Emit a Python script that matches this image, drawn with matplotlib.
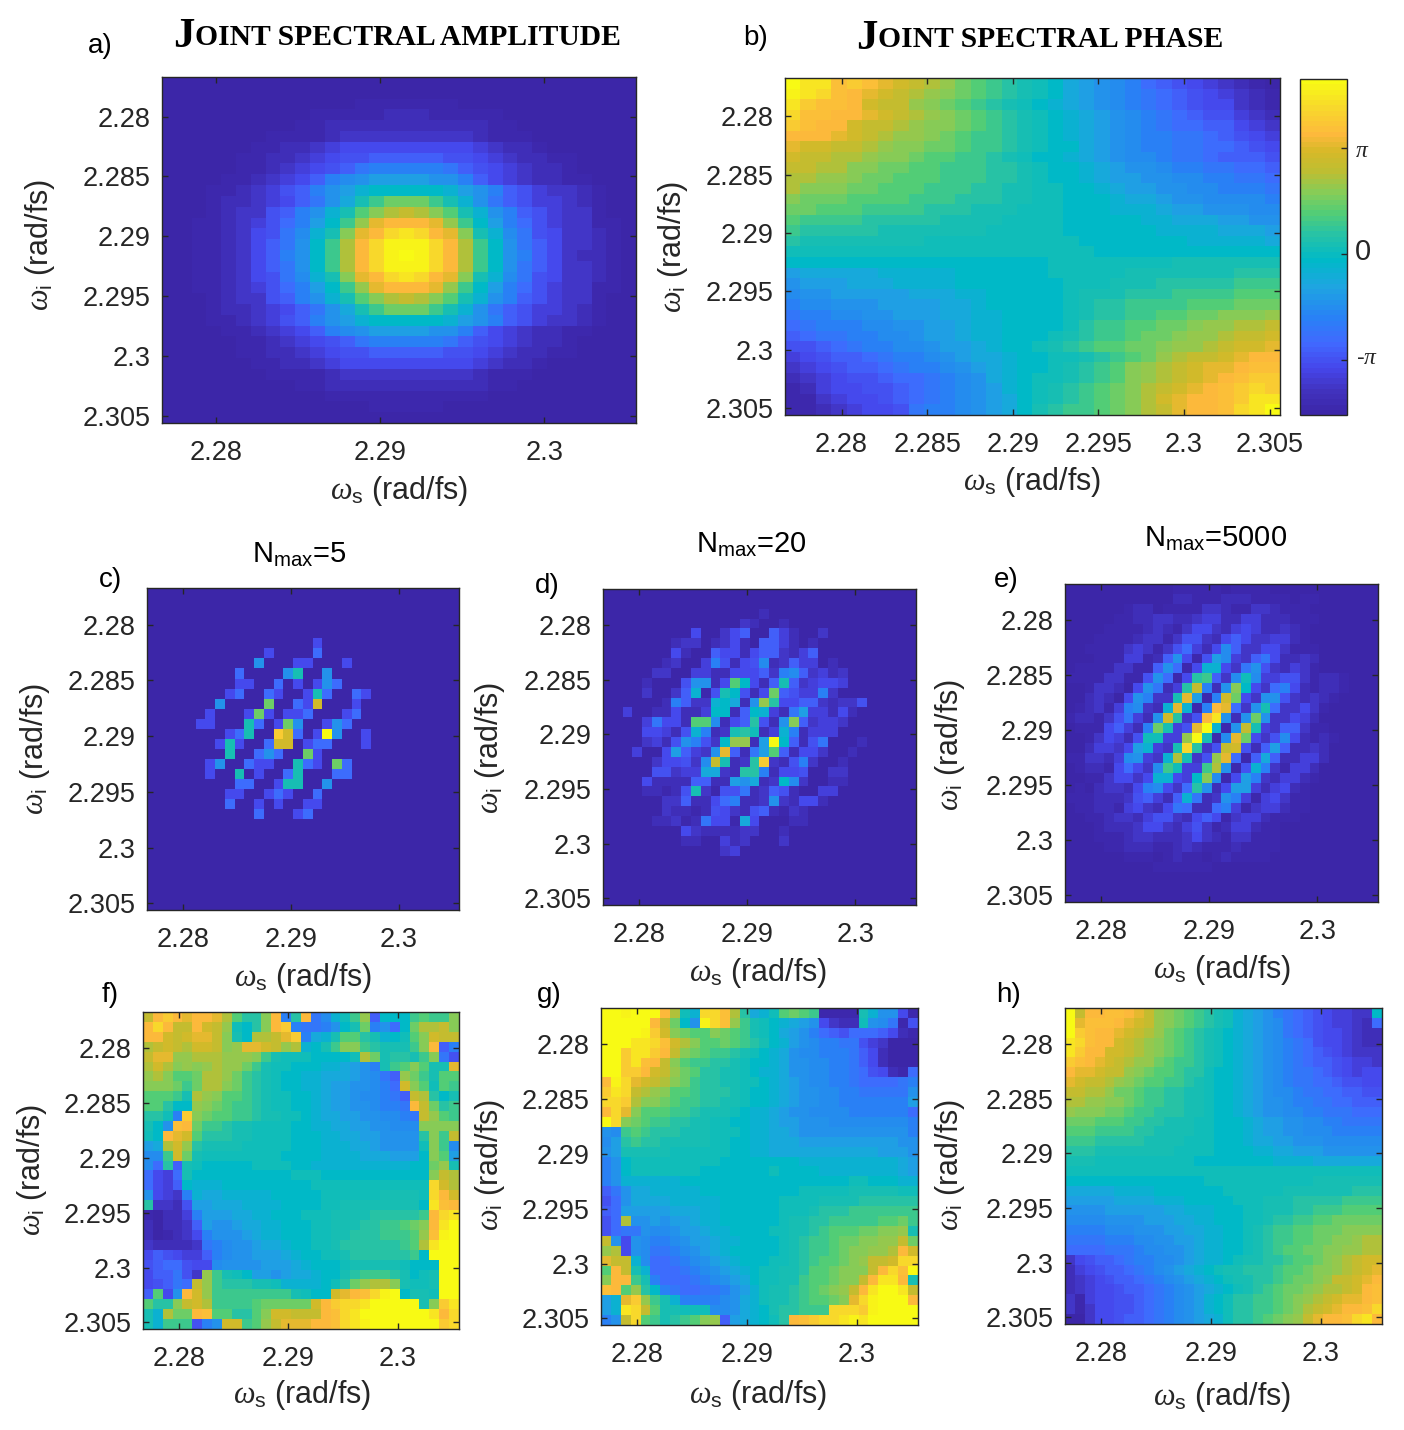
import numpy as np
import matplotlib
matplotlib.use("Agg")
import matplotlib.pyplot as plt
from matplotlib.cm import ScalarMappable
from matplotlib.colors import LinearSegmentedColormap, Normalize

plt.rcParams['font.family'] = ['Liberation Sans', 'DejaVu Sans']
plt.rcParams['mathtext.fontset'] = 'custom'
plt.rcParams['mathtext.rm'] = 'Liberation Sans'
plt.rcParams['mathtext.it'] = 'Liberation Serif:italic'

W, H = 1404, 1430

# every character is one cell: 0 = bottom of the colour scale, z = top
jsa_amp = [
    "00000000000000000000000000000000",
    "00000000000000000000000000000000",
    "00000000000001111111000000000000",
    "00000000001111122211111000000000",
    "00000000011222222222221100000000",
    "00000001111233333333321110000000",
    "00000011223455555555543221000000",
    "00000 11223456677777665432211 0000",
    "00000 112345679aaaaa976543221 0000",
    "0000 1123457abcddddcca75432211 000",
    "000 112346 7acdfgggggfdca7643321 00",
    "000 12234579ceikmmmkifc97644321 00",
    "000 123367acfilnpqpnlifca764331 00",
    "00 1123468adgkostttsokgda8643311 0",
    "00 1123569bfinstwxwtsnifb9653321 0",
    "00 1123579cgkptwyyywtpkgc9753321 0",
    "00 112357acgkptwyzywtpkgca753221 0",
    "00 1123579cgkptwyyywtpkgc9753321 0",
    "00 1123569bfinstwxwtsnifb9653321 0",
    "00 1123468adgkostttsokgda8643311 0",
    "000 123367acfilnpqpnlifca764331 00",
    "000 12234579ceikmmmkifc97644321 00",
    "000 112346 7acdfgggggfdca7643321 00",
    "0000 1123457abcddddcca75432211 000",
    "00000 112345679aaaaa976543221 0000",
    "00000 11223456677777665432211 0000",
    "00000011223455555555543221000000",
    "00000001111233333333321110000000",
    "00000000011222222222221100000000",
    "00000000000111111111110000000000",
    "00000000000000111110000000000000",
    "00000000000000000000000000000000",
]

jsa_phase = [
    "zxxuvusrqp omlkjihged cba8765432 10",
    "yxwutsrqpo nmlkjihged cba9876543 21",
    "xvuutrqqon mlkjihgfed cba9876553 21",
    "wuuttsrqpo nmlkjihgfe dcba987664 32",
    "vuttrqqpon nmlkjihgfe dcba988775 43",
    "tttsrqpoon mlkkjihgfe dcbaa99876 54",
    "srrqqponnm mlkkjihgge dcbaa99887 65",
    "rqqpponnml lkkjihggfe dcbba99877 76",
    "qqppnnmmll kkkjjihggf edccbaa998 87",
    "ppoonmmlll kkkjjihggf eddccbbaa9 98",
    "pnnnmmlllk kkjjiihhgg feddccbbaa a9",
    "nmmmllllkk kjjjiihhgg gfeedccbbb ba",
    "mmlllkkkkj jjiiihhhgg gfffeddccc bb",
    "lkkkkjjjjj iiiihhhhgg gggffeeedd cc",
    "kjjjjjiiii iiihhhhhgg ggggffffee ed",
    "jiiiiiiiih hhhhhhhhhg ggggggffff fe",
    "hhhhhhhhhh hhhhhhhhhh gggggggggg gg",
    "gggggggggg ggggggghhh hhhhhiiiii ii",
    "deeeeeffff fgggggghhh hhiiiiiiij jj",
    "cdddeeefff fggggggghh hiiijjjjjk kk",
    "bccdddddee effggggghi iijjjkkkkl ll",
    "abbcccdddd eefggggghi jjkkkklllm mm",
    "9aabbccddd eeffgggghi jjkkllmmnn no",
    "89aaabbccd deffgggghj kkllmmnoop pq",
    "7899aabbcd deffggghij kklmmnoopq qr",
    "66789aabbc ddefgghijk llmmnoopqr rs",
    "4567789aab cdeefgghhi jklmopqqrs tt",
    "34567789aa bcdefgghij klnopqrsst uu",
    "2345667889 abcefghhij klnopqrstu vv",
    "1245566789 abcdfghijk lmnpqrstuv wv",
    "1134556789 abcdeghijk lmnprsttuv xx",
    "112345569a abcdegijkk lmnpqsttuw xz",
]

nmax5_amp = [
    "", "", "", "", "",
    "0000000000 0000000500",
    "0000000000 0050000800",
    "0000000000 0c00055000 5000000000",
    "0000000008 0000ci00c0",
    "0000000005 50080505c8",
    "0000000058 0085005i80 0850000000",
    "0000000c00 00m0085r00 0500000000",
    "0000005000 5m50558000 5800000000",
    "0000055000 i805mc005c 8000000000",
    "0000000058 i00vr805zc 0050000000",
    "00000005i5 008rr05880 0050000000",
    "00000000i0 08c800m500",
    "0000005c00 85500i850m 8000000000",
    "000000500i 05008i0008 8000000000",
    "0000000008 8005ii00c0",
    "0000000055 0058500800",
    "0000000080 0505005500",
    "0000000000 0800058000",
    "", "", "", "", "", "", "", "", "",
]

nmax20_amp = [
    "", "",
    "0000000000 0000002000",
    "0000000000 0000320020",
    "0000000005 0035700742 0030000000",
    "0000000233 0235207742 0200000000",
    "0000000520 0755257732 4700000000",
    "0000002300 4a6256b237 4402000000",
    "0000033004 42255573ab 7342300000",
    "000020006c c25lg527i7 3455400000",
    "000030037f 16ig625m76 44a3000000",
    "0000002a73 3fge2coj55 7732336000",
    "0040022522 4gg27gf429 d442520000",
    "000049552l lb257j62cn 7344300000",
    "000055426f a23ijh24fa 2444000000",
    "00003426ca 63goo2dzg7 2690002000",
    "0004005d74 3cs729dl72 5530020000",
    "0000035563 bqi23jv326 a300200000",
    "0000066344 ee32jja255 6003300000",
    "0000522227 722dce23gb 3002200000",
    "000022126i 3166923762 0044000000",
    "0000003372 258a223c32 5520000000",
    "0000003221 2653267213 2000000000",
    "0000022312 9551e50002 2000000000",
    "0000000053 2222330020",
    "0000000022 0042300030",
    "0000000000 0034000000",
    "", "", "", "", "",
]

nmax5000_amp = [
    "0000000000 0111110111 1000000000",
    "0000000000 0221112221 1110110000",
    "0000001220 1111332113 3211100000",
    "0000011223 3223442244 2221110000",
    "0000111123 2135532454 2232100000",
    "0001111233 1366325753 3442100000",
    "0011113431 368425b733 5531110000",
    "0001114412 7c516db437 9522320000",
    "0111133117 c815ff539c 6324310000",
    "111133116c 815jk73bhb 4466312210",
    "00133205c9 24jqa2cng5 38a5212210",
    "0023205ca3 3isd1arm53 cc63232100",
    "012314ab32 fsf1ats83c i833531000",
    "122136942c rj36txc2cm c335420000",
    "01115742am i46szf1cqi 4377311000",
    "00135426hh 44ozi1bsm5 36b5212100",
    "0024435df4 3iwj36qr62 7d72232000",
    "113324bc43 fpi36os817 e722442000",
    "012215853b kh44kpc16f a314420000",
    "001135535f f54gnb15da 3244210000",
    "01023325ab 538jc25dd4 2452100000",
    "1112223674 27f923ca41 4531100000",
    "0112214532 598228a413 4421100000",
    "0011233246 6325751344 2111000000",
    "0001222355 3246312442 1100000000",
    "0001112332 2235321331 1100000000",
    "0000112221 1232111211 1100000000",
    "0000001110 1211012111 1000000000",
    "0000000001 1111100000",
    "", "", "",
]

nmax5_phase = [
    "qtvtsttspl jjntajt9bf hko7gggklk kn",
    "twtqqtrqoh gjntva99ac gimac8gmpp qn",
    "ttrqrssqni gppqsvaefi lljifghlnr qq",
    "pqrqprrqno ssrqopfgik nnkjiiiknt 7a",
    "qssoopppoo onkihhhggg ghpmijjikn 96",
    "prpnonopoo mkihhgggff edcaiklnli is",
    "opnllmppom kjihggffee edcb97omki ll",
    "nnnmkmppnm kjihggffed dccba8rnlh lk",
    "lllkiponll kjihhggfed dcbba97qpj gi",
    "lljggonmlk kjihhggfed dccbaa9tqm jk",
    "jjhavnmllk kjiihhgfee ddccbba9qo lk",
    "igcutmkkji ihhhhggffe eddccbbbnn nn",
    "hgtsrljjji ihhhhgggff eeddccccjn kq",
    "deprojiiii hhhhhgggff feedcccchn kb",
    "bbkrmihhhh hhhhggggff ffeeedddgn ld",
    "b8j7ihgggg ghhhhggfff fffffffggm oi",
    "8548iggggg ggggghhhgg gggggggggn qp",
    "8547gfffgg ggggggghhh hhhhhhhhhw rp",
    "c543afeeff fffggggghh hhhhiiiihw tr",
    "j3326ddeee ffffgggghh iiiiiiiigx ut",
    "10224addde effggghhhi iiijjjjjkt wx",
    "202237dccd eeffggghhi iijjkklmnt xz",
    "201235accc deffggghhi ijjjkkklou yz",
    "3222239abc cdeefgghhi jjjjjjklpx zz",
    "5765447abc cdddefgghh ijjjjjjkgz zz",
    "6788655bcc ccdddefggg hiiiiihggg zz",
    "577963okih gddcdeefgg ijkkkjighi zz",
    "56798qokjj jiihffffgh jmoppnihhi zz",
    "7l5ctrokkk kkkkkihggr stuwyzgiih zz",
    "ljjnqrpkkk klmmmmmrtv wwxzzzzzin vx",
    "ifpmmtullj jlnrrqqqtu wxzzzzzzzx tw",
    "ifkkk6acrr kloqsssttu wxyzzzzzzz vw",
]

nmax20_phase = [
    "zzyzzztphf wwupjefhlm lk1111ifcc 51",
    "zzzzztqmgc ywuokihgfe dc5322hcb9 16",
    "zzzzyvrnml lnmlkihged ca87688875 21",
    "zzzxxwurpn llmlkjigfd cbaa996430 00",
    "zzvxxvtqnm lkkjihgfec bbaaa97520 00",
    "zzvxutqnlk kjjihggfec cbbaa97520 00",
    "zzvvtrqoml jjiihgffec cbbaa98652 18",
    "tywsrqpnmk jjiihhgfed cbbaa98888 9a",
    "vxwqponllk jjjihggfed ccbbaa9999 9c",
    "wwvpnnmlkk jjiihggfed ccbbaaaaaa ad",
    "twsnlllkkj iiihgffedc cbbbbaaaaa a8",
    "zwnmlkkjji ihhggffedd cccbbbbbbb ba",
    "cbklkjjjii ihhhgffeed cccccccccc ca",
    "bdjkjjiiii ihhggffeee dddddddddd cc",
    "cdiiiiihhh hhhggffeee eeeeeeeedd dc",
    "acghhhhhhh hhgggggggg ffffffffff ed",
    "acghhhhhhh ggggggghgg ggffffffff ed",
    "acffffffgg gggggggggg ggggghhggg ff",
    "79ceefffff gggggggggg hhhhhiiiii hh",
    "68ceeeefff ffgggggghh hhiiiijjjj jj",
    "78dddddeee ffgggggghh hijjjkkkkk kk",
    "68pccdcdde ffgggggghi ijjkkkkkll mk",
    "6899cbbcdd effgggghhi ijklllmmnn oi",
    "qc5cbaabcd deffgggghi jkklmmnnoo qm",
    "op5cb99abc defggggghi jkklmnnoop tr",
    "sqqfb889ab cdefggghhi jkllmnoqqr ww",
    "ltqif8889a bcdefghhii jllmnnnqtw uz",
    "nttkia8889 abcdeghhii kllmnnqtxx ti",
    "utlojga988 99acdfhiij klmnoqtxzz xq",
    "dfsvokifaa aabcefhiij kllmnswyzz zt",
    "dfxwqliihh hbbcefgijj kkkwwwvyzz zz",
    "acqwlkijkl no7defghjt uvwwxyxzzz zz",
]

nmax5000_phase = [
    "zqttuutsqo nmlkjihfed ca98765443 3g",
    "zsuuutsrqo nmlkjihfed cb98765443 28",
    "zvuttsrqpo mlkjihgfed cb98765543 22",
    "xwuttrqpon mlkjihgfed cba9865543 22",
    "xvttrrqpon mlkjihgfed cba9876543 33",
    "vutsrqpoom lkkjihgfed cba9877654 43",
    "tssrqqonml lkjjhggfed cba9987654 55",
    "srqqponmll kkjihggfed cba9988766 55",
    "qqppommlkk jjiihggfed cbba998877 66",
    "ppoonnmlkk jjiihggfed ccbaa99887 77",
    "onnnmmlkkj jjiihggfed ccbbaa9998 88",
    "mmmlllkkjj iiihhgggfe ddccbbaa99 99",
    "lllkkkkjji iiihhgggfe ddccbbbaaa aa",
    "kkkjjjjjii iihhhgggfe eddcccbbbb bb",
    "jjjiiiiiii ihhhhggggf feedddcccc cc",
    "iiihhhhhhh hhhggggggg gffffeeeee ee",
    "hhhhhhhhhh hhhhhhhhhh hhhhhhhhhh hh",
    "gggggggggg gggghhhhhh hhhhhiiiii ii",
    "eeeeeffffg gggggghhhh hhiiiiiiij jj",
    "dddddeeeef ffggggghhh iiijjjjjkk kk",
    "ccccdddddd eefffggghh iiijjkkkll ll",
    "bbbbccccdd deeffggghh ijjkkllmmm mm",
    "aaaabbbccc ddeeffgghi jkkllmmmnn nn",
    "9999aaabbc cddeffgghi jkkllmmnno pp",
    "8888999abb ccdeffgghi jkllmmnnoo pp",
    "3567789aab bcdeffghii jjkllmnopq rr",
    "24567789ab cdefghiijj jkllmnnopq rs",
    "234567789a bcdefghiij jklmmnoqqr st",
    "2345567789 abcdefghij klmmnoppqr tu",
    "3145566789 abcdfghjjk klmnopqrss tu",
    "3135566789 abcdfghjjk klmnpqrstt uw",
    "0035567789 abcdefhjjk lmnoqsttuw xt",
]

ytick_vals = [2.28, 2.285, 2.29, 2.295, 2.3, 2.305]
ytick_labels = ["2.28", "2.285", "2.29", "2.295", "2.3", "2.305"]
xtick_vals = [2.28, 2.29, 2.3]
xtick_labels = ["2.28", "2.29", "2.3"]
freq_lim = [2.2767, 2.3056]
phase_lim = [-1.518 * np.pi, 1.651 * np.pi]

cmap_pos = [0, .065, .135, .21, .29, .38, .46, .54, .60, .66, .73, .79, .84, .92, 1]
cmap_col = ["#3c26a8", "#4132be", "#4646eb", "#4169ff", "#2882f5", "#1ea5e1", "#00b9c8", "#28c3a5",
            "#50cd78", "#82cd5a", "#bebe32", "#d7b928", "#fdb93c", "#f8d82c", "#f8fa14"]
parula = LinearSegmentedColormap.from_list("parula", list(zip(cmap_pos, cmap_col)), N=64)

dark = "#262626"
levels = "0123456789abcdefghijklmnopqrstuvwxyz"


def decode(rows):
    out = []
    for r in rows:
        r = r.replace(" ", "").ljust(32, "0")[:32]
        out.append([levels.index(c) / 35.0 for c in r])
    return np.array(out)


def px_axes(fig, x0, y0, x1, y1):
    return fig.add_axes([x0 / W, 1 - y1 / H, (x1 - x0) / W, (y1 - y0) / H])


def put(fig, x, y, s, **kw):
    kw.setdefault("ha", "center")
    kw.setdefault("va", "center")
    kw.setdefault("color", dark)
    return fig.text(x / W, 1 - y / H, s, **kw)


def panel(fig, box, rows, xt, xl, lab_s, lab_i, tag, fs=19.5):
    ax = px_axes(fig, *box)
    ax.imshow(decode(rows), cmap=parula, vmin=0, vmax=1, aspect="auto", interpolation="nearest",
              extent=[freq_lim[0], freq_lim[1], freq_lim[1], freq_lim[0]])
    ax.set_xticks(xt)
    ax.set_xticklabels(xl)
    ax.set_yticks(ytick_vals)
    ax.set_yticklabels(ytick_labels)
    ax.tick_params(direction="in", top=True, right=True, length=4, width=1, color=dark,
                   labelcolor=dark, labelsize=fs)
    ax.tick_params(axis="x", pad=12)
    ax.tick_params(axis="y", pad=8)
    for sp in ax.spines.values():
        sp.set_linewidth(1)
        sp.set_color(dark)
    put(fig, lab_s[0], lab_s[1], r"$\omega_{\mathrm{s}}$ (rad/fs)", fontsize=22)
    put(fig, lab_i[0], lab_i[1], r"$\omega_{\mathrm{i}}$ (rad/fs)", fontsize=22, rotation=90)
    put(fig, tag[1], tag[2], tag[0], fontsize=20, color="black")
    return ax


def smallcaps(fig, x, base, text):
    # big first letter, the rest in caps of a smaller size, as the title font does
    first = fig.text(x / W, 1 - base / H, text[0], fontsize=31, family="Liberation Serif",
                     weight="bold", color="black", va="baseline")
    bb = first.get_window_extent(fig.canvas.get_renderer())
    fig.text(bb.x1 / W + 1.0 / W, 1 - (base - 2) / H, text[1:].upper(), fontsize=21.3,
             family="Liberation Serif", weight="bold", color="black", va="baseline")


fig = plt.figure(figsize=(W / 100, H / 100), dpi=100)

panel(fig, (162, 77, 636, 423), jsa_amp, xtick_vals, xtick_labels, (399, 491), (40, 245), ("a)", 100, 46))
panel(fig, (785, 78, 1280, 415), jsa_phase, ytick_vals, ytick_labels, (1032, 482), (673, 247), ("b)", 756, 38))
panel(fig, (147, 588, 459, 910), nmax5_amp, xtick_vals, xtick_labels, (303, 978), (35, 749), ("c)", 111, 580))
panel(fig, (603, 589, 916, 905), nmax20_amp, xtick_vals, xtick_labels, (758, 973), (490, 748), ("d)", 547, 586))
panel(fig, (1065, 584, 1378, 902), nmax5000_amp, xtick_vals, xtick_labels, (1222, 970), (950, 745), ("e)", 1006, 580))
panel(fig, (143, 1012, 459, 1329), nmax5_phase, xtick_vals, xtick_labels, (302, 1395), (32, 1170), ("f)", 110, 995))
panel(fig, (601, 1008, 918, 1325), nmax20_phase, xtick_vals, xtick_labels, (758, 1395), (490, 1165), ("g)", 549, 995))
panel(fig, (1065, 1008, 1382, 1324), nmax5000_phase, xtick_vals, xtick_labels, (1222, 1397), (950, 1165), ("h)", 1009, 995))

cax = px_axes(fig, 1300, 79, 1347, 415)
sm = ScalarMappable(norm=Normalize(phase_lim[0], phase_lim[1]), cmap=parula)
cb = fig.colorbar(sm, cax=cax)
cb.set_ticks([-np.pi, 0, np.pi])
cb.set_ticklabels([])
cb.ax.tick_params(direction="in", length=4, width=1, color=dark)
cb.outline.set_linewidth(1)
cb.outline.set_edgecolor(dark)
put(fig, 1367, 358, r"-$\pi$", fontsize=17)
put(fig, 1363, 252, "0", fontsize=21)
put(fig, 1362, 151, r"$\pi$", fontsize=17)

smallcaps(fig, 173, 47, "Joint spectral amplitude")
smallcaps(fig, 856, 49, "Joint spectral phase")

put(fig, 299, 555, r"N$_{\mathrm{max}}$=5", fontsize=21, color="black")
put(fig, 751, 545, r"N$_{\mathrm{max}}$=20", fontsize=21, color="black")
put(fig, 1216, 539, r"N$_{\mathrm{max}}$=5000", fontsize=21, color="black")

fig.savefig("out.png", dpi=100)
